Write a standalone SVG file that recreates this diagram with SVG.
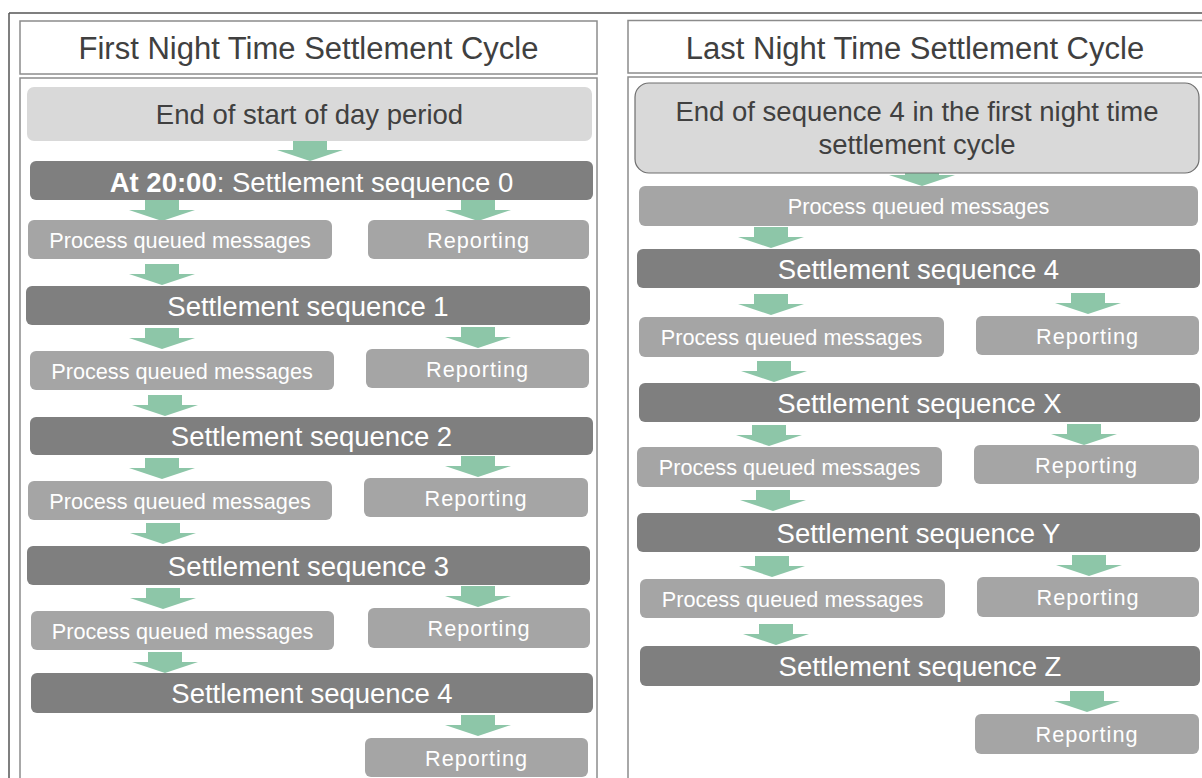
<svg xmlns="http://www.w3.org/2000/svg" xmlns:xlink="http://www.w3.org/1999/xlink" width="1202" height="778" viewBox="0 0 1202 778">
<style>
  text { font-family: "Liberation Sans", Arial, sans-serif; text-anchor: middle; }
  .panel { fill: #ffffff; stroke: #8c8c8c; stroke-width: 1.5; }
  .light { fill: #d9d9d9; }
  .dark { fill: #7f7f7f; }
  .med { fill: #a5a5a5; }
  .title { font-size: 31px; fill: #404040; }
  .lt { font-size: 27.5px; fill: #404040; }
  .dk { font-size: 27.5px; fill: #ffffff; }
  .md { font-size: 21.7px; fill: #ffffff; }
  .rp { letter-spacing: 1px; }
  .arrow { fill: #8dc6a8; }
</style>
<defs>
  <path id="arr" d="M-17,0 H17 V10 H33 L0,21 L-33,10 H-17 Z"/>
</defs>
<rect x="0" y="0" width="1202" height="778" fill="#ffffff"/>
<g id="frame">
  <path d="M9,13 H1202 M9,13 V778" fill="none" stroke="#555555" stroke-width="1.5"/>
</g>
<g id="panel-left">
  <rect class="panel" x="20" y="21" width="577" height="53"/>
  <text class="title" x="308.5" y="59">First Night Time Settlement Cycle</text>
  <rect class="panel" x="20" y="78" width="577" height="712"/>
</g>
<g id="panel-right">
  <rect class="panel" x="628" y="20.5" width="590" height="52.5"/>
  <text class="title" x="915" y="59">Last Night Time Settlement Cycle</text>
  <rect class="panel" x="628" y="77" width="590" height="713"/>
</g>
<g id="connectors" class="arrow">
  <use xlink:href="#arr" x="310" y="140"/>
  <use xlink:href="#arr" x="162" y="200"/>
  <use xlink:href="#arr" x="478" y="200"/>
  <use xlink:href="#arr" x="162" y="264"/>
  <use xlink:href="#arr" x="162" y="328"/>
  <use xlink:href="#arr" x="478" y="327"/>
  <use xlink:href="#arr" x="165" y="395"/>
  <use xlink:href="#arr" x="162" y="458"/>
  <use xlink:href="#arr" x="478" y="456"/>
  <use xlink:href="#arr" x="163" y="523"/>
  <use xlink:href="#arr" x="163" y="588"/>
  <use xlink:href="#arr" x="478" y="586"/>
  <use xlink:href="#arr" x="165" y="652"/>
  <use xlink:href="#arr" x="478" y="715"/>
  <use xlink:href="#arr" x="922" y="165"/>
  <use xlink:href="#arr" x="771" y="227"/>
  <use xlink:href="#arr" x="771" y="294"/>
  <use xlink:href="#arr" x="1088" y="293"/>
  <use xlink:href="#arr" x="774" y="361"/>
  <use xlink:href="#arr" x="769" y="425"/>
  <use xlink:href="#arr" x="1084" y="424"/>
  <use xlink:href="#arr" x="773" y="490"/>
  <use xlink:href="#arr" x="772" y="556"/>
  <use xlink:href="#arr" x="1089" y="555"/>
  <use xlink:href="#arr" x="776" y="624"/>
  <use xlink:href="#arr" x="1087" y="691"/>
</g>
<g id="L0"><rect class="light" x="27" y="87" width="565" height="54" rx="7"/><text class="lt" x="309.5" y="124">End of start of day period</text></g>
<g id="L1"><rect class="dark" x="30" y="161" width="563" height="39" rx="6"/><text class="dk" x="311.5" y="192"><tspan font-weight="bold">At 20:00</tspan>: Settlement sequence 0</text></g>
<g id="L1p"><rect class="med" x="28" y="220" width="304" height="39" rx="6"/><text class="md" x="180" y="247.5">Process queued messages</text></g>
<g id="L1r"><rect class="med" x="368" y="220" width="221" height="39" rx="6"/><text class="md rp" x="478.5" y="247.5">Reporting</text></g>
<g id="L2"><rect class="dark" x="26" y="286" width="564" height="39" rx="6"/><text class="dk" x="308" y="315.5">Settlement sequence 1</text></g>
<g id="L2p"><rect class="med" x="30" y="351" width="304" height="39" rx="6"/><text class="md" x="182" y="378.5">Process queued messages</text></g>
<g id="L2r"><rect class="med" x="366" y="349" width="223" height="39" rx="6"/><text class="md rp" x="477.5" y="376.5">Reporting</text></g>
<g id="L3"><rect class="dark" x="30" y="417" width="563" height="38" rx="6"/><text class="dk" x="311.5" y="446">Settlement sequence 2</text></g>
<g id="L3p"><rect class="med" x="28" y="481" width="304" height="39" rx="6"/><text class="md" x="180" y="508.5">Process queued messages</text></g>
<g id="L3r"><rect class="med" x="364" y="478" width="224" height="39" rx="6"/><text class="md rp" x="476" y="505.5">Reporting</text></g>
<g id="L4"><rect class="dark" x="27" y="546" width="563" height="39" rx="6"/><text class="dk" x="308.5" y="575.5">Settlement sequence 3</text></g>
<g id="L4p"><rect class="med" x="31" y="611" width="303" height="39" rx="6"/><text class="md" x="182.5" y="638.5">Process queued messages</text></g>
<g id="L4r"><rect class="med" x="368" y="608" width="222" height="40" rx="6"/><text class="md rp" x="479" y="636">Reporting</text></g>
<g id="L5"><rect class="dark" x="31" y="673" width="562" height="40" rx="6"/><text class="dk" x="312" y="703">Settlement sequence 4</text></g>
<g id="L5r"><rect class="med" x="365" y="738" width="223" height="39" rx="6"/><text class="md rp" x="476.5" y="765.5">Reporting</text></g>
<g id="R0"><rect class="light" x="635" y="83" width="564" height="90" rx="14" stroke="#6e6e6e" stroke-width="1.2"/><text class="lt" x="917" y="121">End of sequence 4 in the first night time</text><text class="lt" x="917" y="154">settlement cycle</text></g>
<g id="R1"><rect class="med" x="639" y="186" width="559" height="40" rx="6"/><text class="md" x="918.5" y="214">Process queued messages</text></g>
<g id="R2"><rect class="dark" x="637" y="249" width="563" height="39" rx="6"/><text class="dk" x="918.5" y="278.5">Settlement sequence 4</text></g>
<g id="R2p"><rect class="med" x="639" y="317" width="305" height="40" rx="6"/><text class="md" x="791.5" y="345">Process queued messages</text></g>
<g id="R2r"><rect class="med" x="976" y="316" width="223" height="39" rx="6"/><text class="md rp" x="1087.5" y="343.5">Reporting</text></g>
<g id="R3"><rect class="dark" x="639" y="383" width="561" height="39" rx="6"/><text class="dk" x="919.5" y="412.5">Settlement sequence X</text></g>
<g id="R3p"><rect class="med" x="637" y="447" width="305" height="40" rx="6"/><text class="md" x="789.5" y="475">Process queued messages</text></g>
<g id="R3r"><rect class="med" x="974" y="445" width="225" height="39" rx="6"/><text class="md rp" x="1086.5" y="472.5">Reporting</text></g>
<g id="R4"><rect class="dark" x="637" y="513" width="563" height="39" rx="6"/><text class="dk" x="918.5" y="542.5">Settlement sequence Y</text></g>
<g id="R4p"><rect class="med" x="640" y="579" width="305" height="39" rx="6"/><text class="md" x="792.5" y="606.5">Process queued messages</text></g>
<g id="R4r"><rect class="med" x="977" y="577" width="222" height="40" rx="6"/><text class="md rp" x="1088" y="605">Reporting</text></g>
<g id="R5"><rect class="dark" x="640" y="646" width="560" height="40" rx="6"/><text class="dk" x="920" y="676">Settlement sequence Z</text></g>
<g id="R5r"><rect class="med" x="975" y="714" width="224" height="40" rx="6"/><text class="md rp" x="1087" y="742">Reporting</text></g>
</svg>
